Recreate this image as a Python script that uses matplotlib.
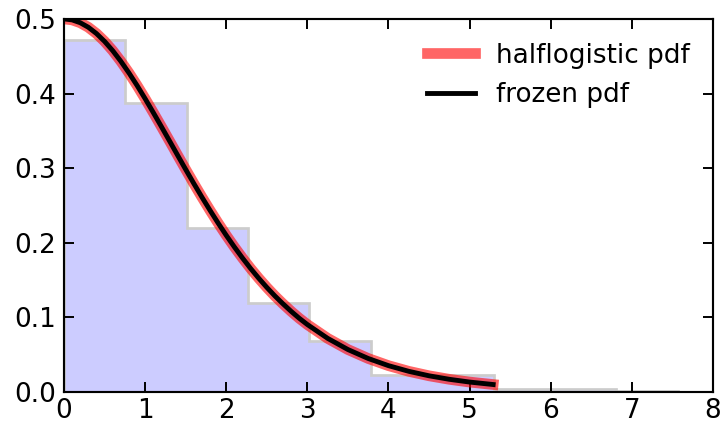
import matplotlib
matplotlib.use("Agg")
import matplotlib.pyplot as plt

# histogram of the random sample (density)
bin_edges = [0.0, 0.756, 1.513, 2.270, 3.026, 3.783, 4.540, 5.296, 6.053, 6.810, 7.566]
bin_heights = [0.472, 0.388, 0.220, 0.119, 0.068, 0.023, 0.023, 0.004, 0.004, 0.001]

# pdf curve points
pdf_x = [0.01, 0.1, 0.2, 0.3, 0.4, 0.5, 0.6, 0.7, 0.8, 0.9, 1.0,
         1.1, 1.2, 1.3, 1.4, 1.5, 1.6, 1.7, 1.8, 1.9, 2.0,
         2.1, 2.2, 2.3, 2.4, 2.5, 2.6, 2.7, 2.8, 2.9, 3.0,
         3.25, 3.5, 3.75, 4.0, 4.25, 4.5, 4.75, 5.0, 5.29]
pdf_y = [0.5000, 0.4988, 0.4950, 0.4889, 0.4805, 0.4700, 0.4576, 0.4434, 0.4278, 0.4110, 0.3932,
         0.3747, 0.3558, 0.3367, 0.3174, 0.2983, 0.2795, 0.2612, 0.2435, 0.2264, 0.2100,
         0.1944, 0.1796, 0.1656, 0.1525, 0.1402, 0.1287, 0.1181, 0.1081, 0.0988, 0.0904,
         0.0719, 0.0569, 0.0449, 0.0353, 0.0277, 0.0217, 0.0170, 0.0133, 0.0100]

plt.rcParams.update({
    "font.family": "DejaVu Sans",
    "font.size": 13.5,
    "xtick.direction": "in",
    "ytick.direction": "in",
    "xtick.top": True,
    "ytick.right": True,
    "xtick.major.size": 5,
    "ytick.major.size": 5,
    "xtick.major.width": 1.0,
    "ytick.major.width": 1.0,
    "xtick.major.pad": 3,
    "ytick.major.pad": 4,
    "axes.linewidth": 1.1,
})

fig = plt.figure(figsize=(724 / 140, 427 / 140), dpi=140)
ax = fig.add_axes([0.0884, 0.082, 0.8964, 0.8735])

ax.hist(bin_edges[:-1], bins=bin_edges, weights=bin_heights,
        histtype="stepfilled", facecolor=(0.8, 0.8, 1.0),
        edgecolor=(0.8, 0.8, 0.8), lw=1.4)
ax.plot(pdf_x, pdf_y, "r-", lw=5.5, alpha=0.6, solid_capstyle="projecting",
        label="halflogistic pdf")
ax.plot(pdf_x, pdf_y, "k-", lw=2.5, solid_capstyle="projecting", label="frozen pdf")

ax.set_xlim(0, 8)
ax.set_ylim(0, 0.5)
ax.set_xticks(range(0, 9))
ax.set_yticks([0.0, 0.1, 0.2, 0.3, 0.4, 0.5])
ax.set_yticklabels(["0.0", "0.1", "0.2", "0.3", "0.4", "0.5"])
ax.legend(loc="upper right", frameon=False, fontsize=13.5, handlelength=1.8)

fig.savefig("out.png", dpi=140)
